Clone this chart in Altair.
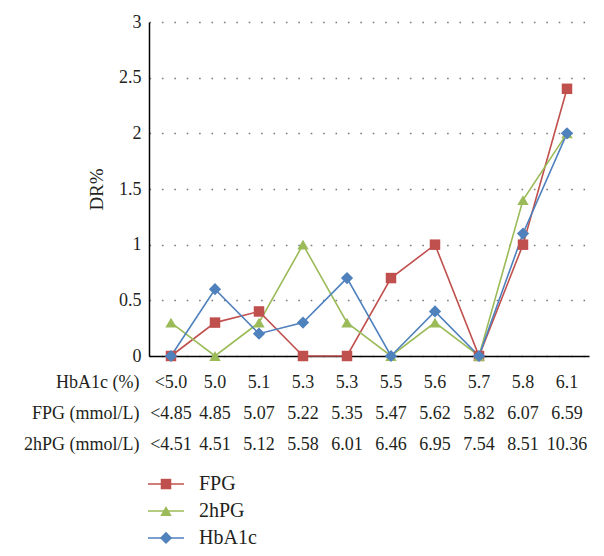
import altair as alt
import pandas as pd

FONT = "Liberation Serif"
TXT = "#231f20"

series_names = ["FPG", "2hPG", "HbA1c"]
series_colors = ["#C0504D", "#9BBB59", "#4F81BD"]
series_shapes = ["square", "triangle-up", "diamond"]
series_sizes = [110, 150, 110]

row_names = ["HbA1c (%)", "FPG (mmol/L)", "2hPG (mmol/L)"]
hba1c_labels = ["<5.0", "5.0", "5.1", "5.3", "5.3", "5.5", "5.6", "5.7", "5.8", "6.1"]
fpg_labels = ["<4.85", "4.85", "5.07", "5.22", "5.35", "5.47", "5.62", "5.82", "6.07", "6.59"]
hpg_labels = ["<4.51", "4.51", "5.12", "5.58", "6.01", "6.46", "6.95", "7.54", "8.51", "10.36"]

fpg_dr = [0, 0.3, 0.4, 0, 0, 0.7, 1.0, 0, 1.0, 2.4]
hpg_dr = [0.3, 0, 0.3, 1.0, 0.3, 0, 0.3, 0, 1.4, 2.0]
hba_dr = [0, 0.6, 0.2, 0.3, 0.7, 0, 0.4, 0, 1.1, 2.0]

y_ticks = [0, 0.5, 1, 1.5, 2, 2.5, 3]

idx = list(range(len(hba1c_labels)))

long = pd.DataFrame([
    {"idx": i, "series": s, "value": v}
    for s, vals in zip(series_names, [fpg_dr, hpg_dr, hba_dr])
    for i, v in zip(idx, vals)
])
tab = pd.DataFrame([
    {"idx": i, "row": r, "label": l}
    for r, labs in zip(row_names, [hba1c_labels, fpg_labels, hpg_labels])
    for i, l in zip(idx, labs)
])
leg = pd.DataFrame({"series": series_names})

xscale = alt.Scale(type="point", padding=0.5)
color = alt.Color("series:N", scale=alt.Scale(domain=series_names, range=series_colors), legend=None)
shape = alt.Shape("series:N", scale=alt.Scale(domain=series_names, range=series_shapes), legend=None)
size = alt.Size("series:N", scale=alt.Scale(domain=series_names, range=series_sizes), legend=None)

base = alt.Chart(long).encode(
    x=alt.X("idx:O", scale=xscale,
            axis=alt.Axis(labels=False, ticks=False, title=None, grid=False,
                          domainColor="#000", domainWidth=1.5)),
    y=alt.Y("value:Q", scale=alt.Scale(domain=[0, 3], nice=False),
            axis=alt.Axis(values=y_ticks, format="~g", title="DR%", ticks=False,
                          domainColor="#000", domainWidth=1.5, labelPadding=8,
                          labelFont=FONT, labelFontSize=18, labelColor=TXT,
                          titleFont=FONT, titleFontSize=19, titleColor=TXT, titleFontWeight="normal",
                          grid=True, gridColor="#7a7a7a", gridDash=[1.6, 10.8], gridWidth=1.3,
                          titlePadding=12)),
    color=color,
)
lines = base.mark_line(strokeWidth=1.6)
points = base.mark_point(filled=True, opacity=1).encode(shape=shape, size=size)
top = alt.layer(lines, points).properties(width=440, height=334)

table = alt.Chart(tab).mark_text(font=FONT, fontSize=18, color=TXT).encode(
    x=alt.X("idx:O", scale=xscale, axis=None),
    y=alt.Y("row:N", sort=row_names, scale=alt.Scale(type="band", paddingInner=0, paddingOuter=0),
            axis=alt.Axis(title=None, ticks=False, domain=False, labelPadding=10,
                          labelFont=FONT, labelFontSize=18, labelColor=TXT)),
    text="label:N",
).properties(width=440, height=92)

ly = alt.Y("series:N", sort=series_names, scale=alt.Scale(type="point", padding=0.78), axis=None)
lrule = alt.Chart(leg).mark_rule(strokeWidth=1.6).encode(
    x=alt.value(-1), x2=alt.value(35), y=ly, color=color)
lpt = alt.Chart(leg).mark_point(filled=True, opacity=1).encode(
    x=alt.value(17), y=ly, color=color, shape=shape, size=size)
ltxt = alt.Chart(leg).mark_text(align="left", font=FONT, fontSize=20, color=TXT).encode(
    x=alt.value(50), y=ly, text="series:N")
legend = alt.layer(lrule, lpt, ltxt).properties(width=440, height=96)

chart = (
    alt.vconcat(top, table, legend, spacing=3)
    .resolve_scale(x="independent", y="independent")
    .properties(padding={"left": 15, "top": 5, "right": 5, "bottom": 5})
    .configure_view(stroke=None)
)

chart.save("out.html", embed_options={"renderer": "svg", "actions": False})
